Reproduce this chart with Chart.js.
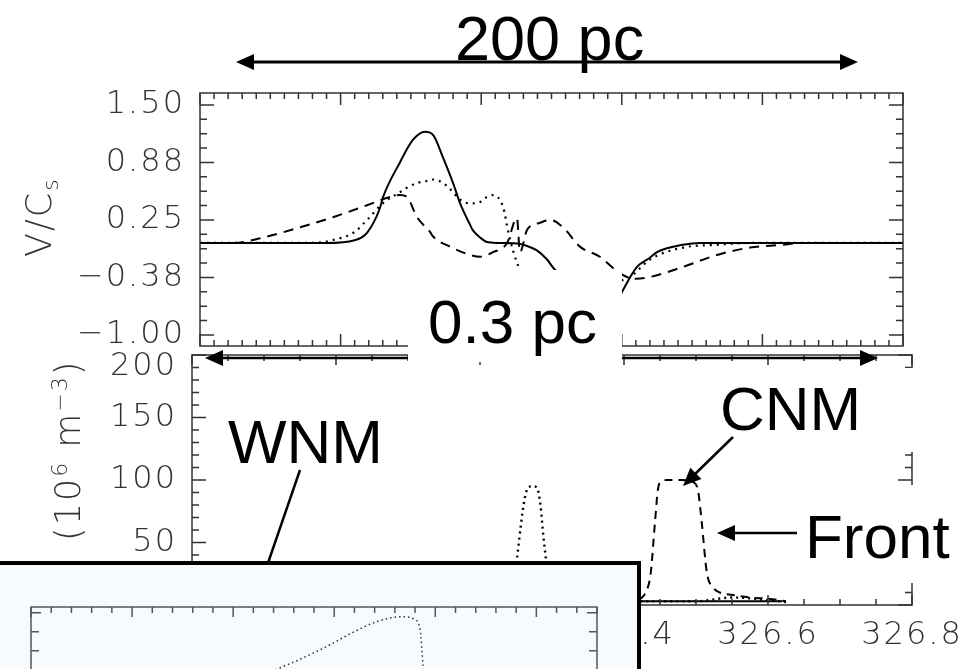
<!DOCTYPE html>
<html>
<head>
<meta charset="utf-8">
<script src="https://cdn.jsdelivr.net/npm/chart.js@4.4.1/dist/chart.umd.min.js"></script>
<style>
  html, body { margin: 0; padding: 0; background: #fff; overflow: hidden; }
  body { width: 972px; height: 669px; position: relative; }
  canvas { position: absolute; }
  #vel { left: 0; top: 80px; }
  #dens { left: 0; top: 340px; }
  #notes { position: absolute; left: 0; top: 0; }
  #inset { position: absolute; left: -6px; top: 561px; width: 647px; height: 120px; box-sizing: border-box;
           border: 4px solid #000; background: #f7fbfe; overflow: hidden; }
  #front { left: 2px; top: 30px; }
</style>
</head>
<body>
<canvas id="dens" width="972" height="329"></canvas>
<canvas id="vel" width="930" height="280"></canvas>

<svg id="notes" width="972" height="669" xmlns="http://www.w3.org/2000/svg">
  <g id="under"></g>
  <rect x="408" y="270" width="214" height="92" fill="#fff"/>
  <rect x="700" y="368" width="272" height="84" fill="#fff"/>
  <rect x="800" y="485" width="172" height="98" fill="#fff"/>
  <g font-family="Liberation Sans, Arial, sans-serif" font-size="62" fill="#000">
    <text x="455" y="60" font-size="63">200 pc</text>
    <text x="428" y="343">0.3 pc</text>
    <text x="228" y="463">WNM</text>
    <text x="720" y="430">CNM</text>
    <text x="805" y="558">Front</text>
  </g>
  <g font-family="DejaVu Sans" font-weight="200" font-size="35" fill="#333" letter-spacing="2">
    <text transform="translate(51,257) rotate(-90)">V/C<tspan dy="7" font-size="22">s</tspan></text>
    <text transform="translate(80,541) rotate(-90)">(10<tspan dy="-13" font-size="22">6</tspan><tspan dy="13"> m</tspan><tspan dy="-13" font-size="22">−3</tspan><tspan dy="13">)</tspan></text>
  </g>
  <g id="over"></g>
</svg>

<div id="inset"><canvas id="front" width="620" height="208"></canvas></div>

<script>
// upper panel: velocity / sound speed against position (pc)
const velTicks = [-1.0, -0.375, 0.25, 0.875, 1.5];
const velTickLabels = ['\u22121.00', '\u22120.38', '0.25', '0.88', '1.50'];
const velSolid = [
  [0, 0], [45, 0], [55, 0.03], [59.4, 0.11], [64, 0.38], [65, 0.49], [71, 0.87], [75.7, 1.12],
  [80, 1.21], [83, 1.17], [86.4, 0.93], [90, 0.65], [92.5, 0.43], [96, 0.2], [97, 0.14],
  [100, 0.05], [102, 0.01], [106, 0], [113.8, -0.01], [116, -0.03], [119.8, -0.08],
  [123.4, -0.18], [126.2, -0.29], [132, -0.38], [138, -0.46], [144, -0.52], [149.6, -0.56],
  [150.1, -0.53], [155.4, -0.26], [160, -0.16], [162.5, -0.1], [171.8, -0.02], [177.8, 0], [250, 0]
];
const velDotted = [
  [0, 0], [40, 0], [47, 0.03], [55, 0.12], [59.4, 0.25], [65, 0.43], [71, 0.55], [73.6, 0.6],
  [77, 0.65], [81.8, 0.68], [83, 0.69], [87.8, 0.62], [92.5, 0.47], [96, 0.43], [100, 0.45],
  [102, 0.5], [104.2, 0.52], [107.8, 0.39], [109.5, 0.14], [111.3, -0.08], [113.8, -0.29],
  [120, -0.4], [130, -0.45], [140, -0.45], [148, -0.42], [152.9, -0.37], [160, -0.18],
  [171.8, -0.05], [183.9, -0.02], [195.6, 0], [250, 0]
];
const velDashed = [
  [0, 0], [11.7, 0], [23.8, 0.07], [35.6, 0.17], [47.3, 0.28], [59.4, 0.41], [67.6, 0.5],
  [71.1, 0.52], [73.6, 0.5], [77.2, 0.28], [81.8, 0.12], [82.9, 0.07], [88.9, -0.04], [95, -0.12],
  [99.6, -0.15], [104.2, -0.1], [109.2, 0], [112.7, 0.27], [113.8, -0.1], [116.3, 0.14],
  [121, 0.22], [124.5, 0.25], [129.1, 0.17], [135.1, -0.04], [142.2, -0.15], [147.6, -0.29],
  [151.8, -0.37], [155, -0.39], [160, -0.37], [171.8, -0.26], [183.9, -0.13], [195.6, -0.05],
  [207.3, -0.02], [213.4, 0], [250, 0]
];

// lower panel: density (10^6 m^-3) against position (pc)
const densTicks = [0, 50, 100, 150, 200];
const densXTicks = [326.0, 326.2, 326.4, 326.6, 326.8];
const densXTickLabels = ['326.0', '326.2', '326.4', '326.6', '326.8'];
const densSolid = [[325.8, 3], [326.62, 3]];
const densDotted = [
  [325.8, 2], [326.22, 2], [326.24, 5], [326.248, 20], [326.252, 40], [326.257, 65], [326.262, 85],
  [326.267, 94], [326.273, 95], [326.279, 94], [326.284, 80], [326.288, 55], [326.292, 35],
  [326.297, 12], [326.305, 3], [326.5, 3], [326.55, 6], [326.6, 4], [326.63, 2]
];
const densDashed = [
  [325.8, 2], [326.40, 2], [326.425, 6], [326.433, 14], [326.437, 25], [326.443, 66], [326.447, 92],
  [326.452, 99], [326.46, 100], [326.48, 100], [326.497, 98], [326.503, 91], [326.508, 66],
  [326.515, 26], [326.524, 14], [326.533, 10], [326.551, 8], [326.575, 6], [326.6, 5], [326.625, 3]
];

// inset: front profile
const frontCurve = [
  [2.0, 6.2], [2.49, 7.16], [2.86, 8.05], [2.96, 8.32], [3.18, 8.95], [3.42, 9.53], [3.68, 9.79],
  [3.8, 9.63], [3.85, 9.1], [3.88, 7.16], [3.9, 6.0]
];

const pts = arr => arr.map(([x, y]) => ({ x, y }));

function marks(scale, t) {
  const out = [];
  const n0 = Math.ceil((scale.min - t.start) / t.minor - 1e-6);
  const n1 = Math.floor((scale.max - t.start) / t.minor + 1e-6);
  const per = Math.round(t.major / t.minor);
  for (let n = n0; n <= n1; n++) out.push([t.start + n * t.minor, ((n % per) + per) % per === 0]);
  return out;
}

// box round the plot with inward major and minor ticks on all four sides
const framePlugin = {
  id: 'frame',
  beforeDraw(chart) {
    chart.ctx.letterSpacing = '2px';
  },
  afterDatasetsDraw(chart, args, o) {
    const { ctx, chartArea: a } = chart;
    const xs = chart.scales.x, ys = chart.scales.y;
    ctx.save();
    ctx.strokeStyle = o.color;
    ctx.lineWidth = o.lineWidth;
    ctx.strokeRect(a.left, a.top, a.right - a.left, a.bottom - a.top);
    ctx.beginPath();
    marks(xs, o.x).forEach(([v, major]) => {
      const p = xs.getPixelForValue(v), len = major ? o.x.len[0] : o.x.len[1];
      ctx.moveTo(p, a.top); ctx.lineTo(p, a.top + len);
      ctx.moveTo(p, a.bottom); ctx.lineTo(p, a.bottom - len);
    });
    marks(ys, o.y).forEach(([v, major]) => {
      const p = ys.getPixelForValue(v), len = major ? o.y.len[0] : o.y.len[1];
      ctx.moveTo(a.left, p); ctx.lineTo(a.left + len, p);
      ctx.moveTo(a.right, p); ctx.lineTo(a.right - len, p);
    });
    ctx.stroke();
    ctx.restore();
  }
};

// no extra room for labels that stick out past the plot ends
const noPad = s => { s.paddingTop = s.paddingBottom = s.paddingLeft = s.paddingRight = 0; };

const tickFont = { family: 'DejaVu Sans', size: 32, weight: 200 };
const tickColor = '#333';
const common = {
  responsive: false,
  animation: false,
  events: [],
  elements: { point: { radius: 0 }, line: { cubicInterpolationMode: 'monotone', borderCapStyle: 'butt' } },
};

new Chart(document.getElementById('vel'), {
  type: 'line',
  data: {
    datasets: [
      { data: pts(velSolid), borderColor: '#000', borderWidth: 2 },
      { data: pts(velDotted), borderColor: '#000', borderWidth: 2.2, borderDash: [2, 5] },
      { data: pts(velDashed), borderColor: '#000', borderWidth: 2, borderDash: [10, 7] }
    ]
  },
  options: {
    ...common,
    layout: { padding: { top: 13, right: 27, bottom: 14, left: 0 } },
    plugins: {
      legend: { display: false }, tooltip: { enabled: false },
      frame: { color: '#333', lineWidth: 1.5,
               x: { start: 0, major: 50, minor: 5, len: [12, 6] },
               y: { start: -1, major: 0.625, minor: 0.15625, len: [14, 7] } }
    },
    scales: {
      x: { type: 'linear', min: 0, max: 250, display: false },
      y: {
        min: -1.12, max: 1.63,
        afterBuildTicks: s => { s.ticks = velTicks.map(v => ({ value: v })); },
        afterFit: s => { s.width = 200; noPad(s); },
        grid: { display: false, drawTicks: false }, border: { display: false },
        ticks: { padding: 15, color: tickColor, font: tickFont, autoSkip: false,
                 callback: (v, i) => velTickLabels[i] }
      }
    }
  },
  plugins: [framePlugin]
});

new Chart(document.getElementById('dens'), {
  type: 'line',
  data: {
    datasets: [
      { data: pts(densSolid), borderColor: '#000', borderWidth: 2 },
      { data: pts(densDotted), borderColor: '#000', borderWidth: 2.4, borderDash: [2, 4] },
      { data: pts(densDashed), borderColor: '#000', borderWidth: 2, borderDash: [8, 6] }
    ]
  },
  options: {
    ...common,
    layout: { padding: { top: 15, right: 60, bottom: 0, left: 0 } },
    plugins: {
      legend: { display: false }, tooltip: { enabled: false },
      frame: { color: '#333', lineWidth: 1.5,
               x: { start: 326.0, major: 0.2, minor: 0.05, len: [10, 6] },
               y: { start: 0, major: 50, minor: 10, len: [14, 7] } }
    },
    scales: {
      x: {
        type: 'linear', min: 325.8, max: 326.8,
        afterBuildTicks: s => { s.ticks = densXTicks.map(v => ({ value: v })); },
        afterFit: s => { s.height = 64; noPad(s); },
        grid: { display: false, drawTicks: false }, border: { display: false },
        ticks: { padding: 11, color: tickColor, font: tickFont, autoSkip: false, maxRotation: 0,
                 callback: (v, i) => densXTickLabels[i] }
      },
      y: {
        min: 0, max: 200,
        afterBuildTicks: s => { s.ticks = densTicks.map(v => ({ value: v })); },
        afterFit: s => { s.width = 192; noPad(s); },
        grid: { display: false, drawTicks: false }, border: { display: false },
        // the top label sits just under the panel edge, as in the original figure
        ticks: { padding: 15, color: tickColor, font: { ...tickFont, lineHeight: 0.75 }, autoSkip: false,
                 callback: v => (v === 200 ? ['', '200'] : String(v)) }
      }
    }
  },
  plugins: [framePlugin]
});

new Chart(document.getElementById('front'), {
  type: 'line',
  data: {
    datasets: [
      { data: pts(frontCurve), borderColor: '#333', borderWidth: 1.5, borderDash: [1.5, 3] }
    ]
  },
  options: {
    ...common,
    layout: { padding: { top: 12, right: 23, bottom: 0, left: 0 } },
    plugins: {
      legend: { display: false }, tooltip: { enabled: false },
      frame: { color: '#555', lineWidth: 1.5,
               x: { start: 0, major: 1, minor: 0.2, len: [10, 6] },
               y: { start: 0, major: 5, minor: 1, len: [10, 8] } }
    },
    scales: {
      x: { type: 'linear', min: 0, max: 5.6, display: false },
      y: {
        min: 0, max: 10.3,
        afterFit: s => { s.width = 31; noPad(s); },
        grid: { display: false, drawTicks: false }, border: { display: false },
        ticks: { display: false }
      }
    }
  },
  plugins: [framePlugin]
});

// annotation arrows
const NS = 'http://www.w3.org/2000/svg';
function arrow(g, x1, y1, x2, y2, heads, w) {
  const line = document.createElementNS(NS, 'line');
  Object.entries({ x1, y1, x2, y2, stroke: '#000', 'stroke-width': w }).forEach(([k, v]) => line.setAttribute(k, v));
  g.appendChild(line);
  heads.forEach(([tx, ty, fx, fy]) => {
    const dx = tx - fx, dy = ty - fy, d = Math.hypot(dx, dy), ux = dx / d, uy = dy / d;
    const bx = tx - ux * 18, by = ty - uy * 18;
    const poly = document.createElementNS(NS, 'polygon');
    poly.setAttribute('points', `${tx},${ty} ${bx - uy * 8},${by + ux * 8} ${bx + uy * 8},${by - ux * 8}`);
    poly.setAttribute('fill', '#000');
    g.appendChild(poly);
  });
}
const under = document.getElementById('under'), over = document.getElementById('over');
arrow(under, 215, 358, 870, 358, [[205, 358, 215, 358], [878, 358, 868, 358]], 2.5);
arrow(over, 246, 62, 850, 62, [[236, 62, 246, 62], [858, 62, 848, 62]], 3);
arrow(over, 300, 470, 268, 563, [], 2.5);
arrow(over, 733, 437, 692, 477, [[683, 486, 733, 437]], 2.5);
arrow(over, 797, 533, 725, 533, [[717, 533, 797, 533]], 2.5);
</script>
</body>
</html>
